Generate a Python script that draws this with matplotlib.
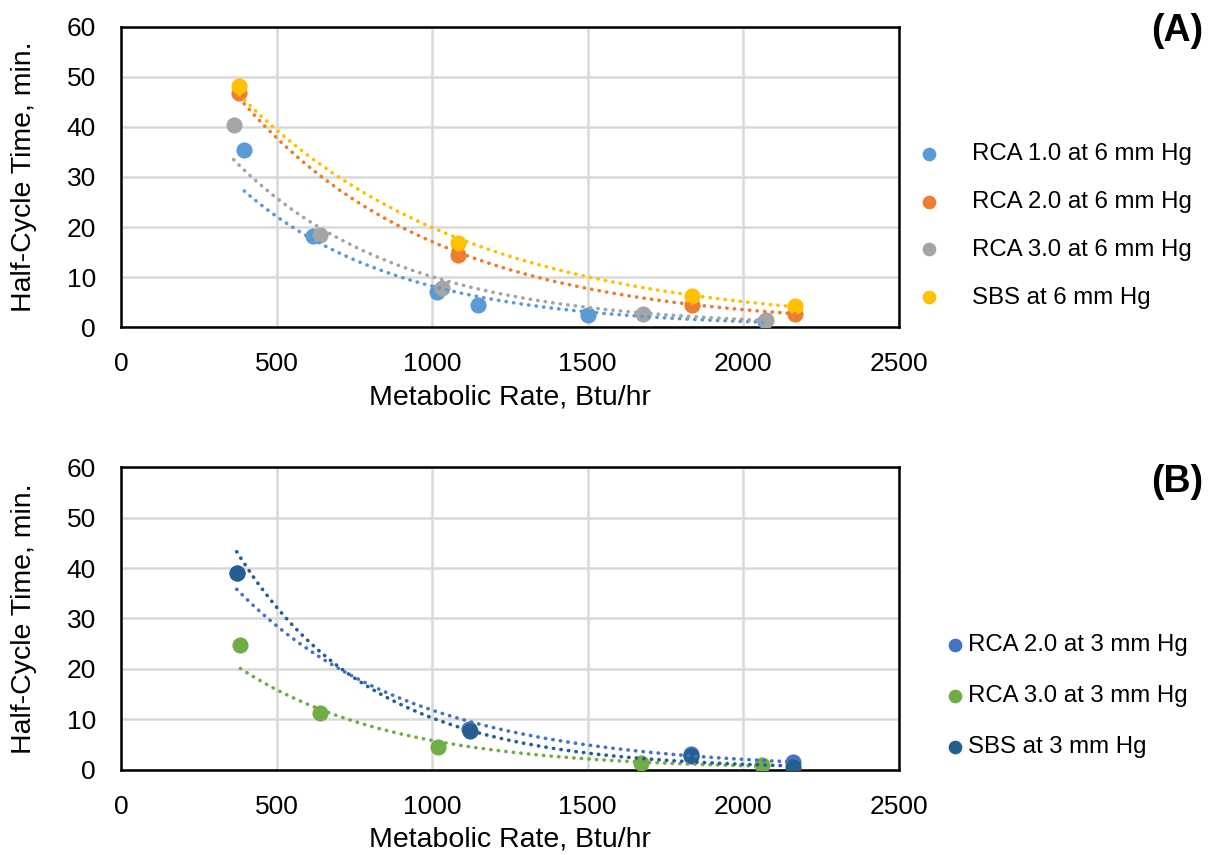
import numpy as np
import matplotlib.pyplot as plt

plt.rcParams['font.family'] = ['Liberation Sans', 'DejaVu Sans']

# Panel A data (6 mm Hg)
rca1_6_x = [396, 617, 1017, 1147, 1501, 2070]
rca1_6_y = [35.3, 18.3, 7.1, 4.5, 2.5, 1.3]
rca2_6_x = [380, 1083, 1835, 2168]
rca2_6_y = [46.7, 14.5, 4.5, 2.7]
rca3_6_x = [362, 640, 1032, 1677, 2074]
rca3_6_y = [40.3, 18.5, 7.8, 2.7, 1.5]
sbs_6_x = [380, 1083, 1835, 2168]
sbs_6_y = [48.1, 16.9, 6.2, 4.2]

# Panel B data (3 mm Hg)
rca2_3_x = [372, 1118, 1831, 2162]
rca2_3_y = [39.0, 8.0, 3.0, 1.5]
rca3_3_x = [384, 641, 1018, 1672, 2060]
rca3_3_y = [24.8, 11.3, 4.4, 1.35, 0.8]
sbs_3_x = [372, 1121, 1831, 2162]
sbs_3_y = [39.1, 7.7, 2.7, 0.45]

series_a = [
    (rca1_6_x, rca1_6_y, '#5B9BD5', 'RCA 1.0 at 6 mm Hg'),
    (rca2_6_x, rca2_6_y, '#ED7D31', 'RCA 2.0 at 6 mm Hg'),
    (rca3_6_x, rca3_6_y, '#A5A5A5', 'RCA 3.0 at 6 mm Hg'),
    (sbs_6_x, sbs_6_y, '#FFC000', 'SBS at 6 mm Hg'),
]
series_b = [
    (rca2_3_x, rca2_3_y, '#4472C4', 'RCA 2.0 at 3 mm Hg'),
    (rca3_3_x, rca3_3_y, '#70AD47', 'RCA 3.0 at 3 mm Hg'),
    (sbs_3_x, sbs_3_y, '#255E91', 'SBS at 3 mm Hg'),
]

fig = plt.figure(figsize=(12.16, 8.55), dpi=100)
ax_a = fig.add_axes([0.0995, 0.6175, 0.6395, 0.351])
ax_b = fig.add_axes([0.0995, 0.1, 0.6395, 0.3535])


def draw_panel(ax, series):
    for x, y, c, lab in series:
        ax.scatter(x, y, s=135, color=c, zorder=3, linewidths=0, label=lab)
    # exponential trendlines, drawn over the markers
    for x, y, c, lab in series:
        x = np.array(x, float)
        b, a = np.polyfit(x, np.log(y), 1)
        xs = np.linspace(x.min(), x.max(), 200)
        ax.plot(xs, np.exp(a + b * xs), color=c, lw=2.6,
                linestyle=(0, (0.1, 2.0)), dash_capstyle='round', zorder=4)
    ax.set_xlim(0, 2500)
    ax.set_ylim(0, 60)
    ax.set_xticks(range(0, 2501, 500))
    ax.set_yticks(range(0, 61, 10))
    ax.grid(color='#D9D9D9', lw=1.8)
    ax.set_axisbelow(True)
    for s in ax.spines.values():
        s.set_linewidth(1.8)
        s.set_color('black')
    ax.tick_params(length=0, labelsize=19, pad=18)
    ax.set_xlabel('Metabolic Rate, Btu/hr', fontsize=20.5)
    ax.set_ylabel('Half-Cycle Time, min.', fontsize=20.5)
    ax.xaxis.set_label_coords(0.5, -0.19)
    ax.yaxis.set_label_coords(-0.108, 0.5)


draw_panel(ax_a, series_a)
draw_panel(ax_b, series_b)

ax_a.legend(loc='upper left', bbox_to_anchor=(1.023, 0.612), frameon=False,
            fontsize=17.3, markerscale=0.85, handletextpad=1.29,
            labelspacing=1.07, borderpad=0, borderaxespad=0, handlelength=1.0)
ax_b.legend(loc='upper left', bbox_to_anchor=(1.0566, 0.448), frameon=False,
            fontsize=17.3, markerscale=0.85, handletextpad=0.04,
            labelspacing=1.21, borderpad=0, borderaxespad=0, handlelength=1.0)

fig.text(0.968, 0.964, '(A)', fontsize=27, fontweight='bold', ha='center', va='center')
fig.text(0.968, 0.436, '(B)', fontsize=27, fontweight='bold', ha='center', va='center')

fig.savefig('out.png', dpi=100)
